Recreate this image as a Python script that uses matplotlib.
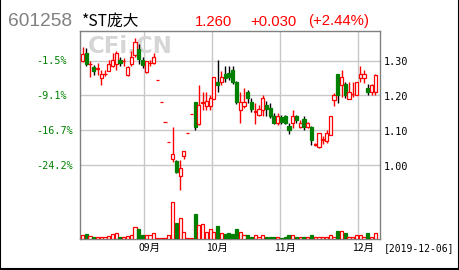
import matplotlib
matplotlib.use('Agg')
import matplotlib.pyplot as plt
from matplotlib.lines import Line2D

# daily candles, 2019-08 .. 2019-12-06
opens = [1.300, 1.321, 1.290, 1.281, 1.277, 1.250, 1.261, 1.271, 1.283, 1.290,
         1.302, 1.298, 1.259, 1.290, 1.315, 1.332, 1.302, 1.268, 1.292, 1.292,
         1.245, 1.182, 1.123, 1.067, 1.018, 1.013, 0.970, 1.028, 1.092, 1.146,
         1.180, 1.119, 1.178, 1.169, 1.170, 1.191, 1.240, 1.240, 1.262, 1.264,
         1.273, 1.240, 1.159, 1.170, 1.211, 1.180, 1.153, 1.145, 1.159, 1.173,
         1.163, 1.140, 1.121, 1.138, 1.140, 1.113, 1.121, 1.140, 1.110, 1.132,
         1.110, 1.111, 1.058, 1.052, 1.072, 1.071, 1.088, 1.188, 1.262, 1.230,
         1.233, 1.190, 1.203, 1.200, 1.250, 1.250, 1.221, 1.211, 1.209]
highs = [1.340, 1.335, 1.300, 1.288, 1.292, 1.273, 1.273, 1.302, 1.321, 1.326,
         1.311, 1.307, 1.283, 1.326, 1.364, 1.346, 1.311, 1.300, 1.302, 1.321,
         1.245, 1.182, 1.123, 1.067, 1.111, 1.015, 1.016, 1.042, 1.092, 1.146,
         1.180, 1.230, 1.211, 1.211, 1.202, 1.254, 1.302, 1.271, 1.283, 1.283,
         1.283, 1.242, 1.211, 1.221, 1.216, 1.192, 1.178, 1.173, 1.202, 1.183,
         1.178, 1.151, 1.151, 1.145, 1.145, 1.121, 1.159, 1.145, 1.130, 1.140,
         1.124, 1.113, 1.065, 1.094, 1.083, 1.100, 1.141, 1.207, 1.262, 1.273,
         1.240, 1.240, 1.240, 1.240, 1.283, 1.273, 1.233, 1.233, 1.262]
lows = [1.297, 1.283, 1.252, 1.259, 1.259, 1.230, 1.256, 1.269, 1.281, 1.273,
        1.283, 1.283, 1.256, 1.283, 1.311, 1.289, 1.278, 1.265, 1.285, 1.290,
        1.245, 1.182, 1.123, 1.067, 1.011, 0.978, 0.930, 1.018, 1.092, 1.146,
        1.100, 1.115, 1.159, 1.159, 1.159, 1.190, 1.210, 1.230, 1.240, 1.245,
        1.233, 1.176, 1.121, 1.165, 1.178, 1.152, 1.119, 1.140, 1.140, 1.140,
        1.135, 1.119, 1.115, 1.118, 1.118, 1.090, 1.107, 1.120, 1.108, 1.100,
        1.106, 1.059, 1.055, 1.050, 1.061, 1.064, 1.087, 1.170, 1.178, 1.197,
        1.192, 1.190, 1.197, 1.200, 1.240, 1.237, 1.200, 1.200, 1.200]
closes = [1.319, 1.290, 1.291, 1.271, 1.279, 1.262, 1.262, 1.290, 1.302, 1.321,
          1.292, 1.300, 1.281, 1.311, 1.353, 1.304, 1.288, 1.300, 1.294, 1.310,
          1.245, 1.182, 1.123, 1.067, 1.032, 0.982, 0.992, 1.040, 1.092, 1.146,
          1.110, 1.172, 1.181, 1.183, 1.192, 1.252, 1.230, 1.252, 1.250, 1.252,
          1.240, 1.180, 1.180, 1.181, 1.192, 1.161, 1.157, 1.161, 1.192, 1.161,
          1.142, 1.121, 1.140, 1.123, 1.121, 1.102, 1.140, 1.129, 1.121, 1.110,
          1.121, 1.073, 1.061, 1.092, 1.075, 1.092, 1.140, 1.200, 1.200, 1.254,
          1.200, 1.211, 1.205, 1.240, 1.262, 1.262, 1.211, 1.230, 1.260]
volumes = [13, 15, 11, 8, 8, 8, 8, 11, 15, 18, 8, 8, 10, 13, 38, 30, 14, 14, 14, 20,
           3, 3, 3, 12, 113, 50, 65, 22, 3, 3, 75, 43, 47, 22, 30, 22, 40, 18, 15, 18,
           15, 30, 23, 13, 12, 8, 12, 8, 12, 6, 6, 8, 8, 5, 6, 12, 12, 6, 6, 6,
           8, 12, 8, 8, 6, 8, 12, 8, 26, 26, 18, 8, 8, 12, 14, 8, 18, 8, 20]

month_labels = ['09月', '10月', '11月', '12月']
month_starts = [17, 35, 53, 74]
price_ticks = [1.30, 1.20, 1.10, 1.00]
pct_labels = ['-1.5%', '-9.1%', '-16.7%', '-24.2%']
code = '601258'
name = '*ST庞大'
last_date = '2019-12-06'
prev_close = 1.23

RED = '#ff0000'
GREEN = '#008000'
GRID = '#c8c8c8'

fig = plt.figure(figsize=(4.6, 2.7), dpi=100)
rect = [80 / 460, 1 - 239.3 / 270, 300.3 / 460, 208.3 / 270]
ax = fig.add_axes(rect)
axv = fig.add_axes(rect)
axv.patch.set_visible(False)
axv.axis('off')

n = len(closes)
xs = list(range(n))
up = [c >= o for o, c in zip(opens, closes)]

# grid
for t in price_ticks:
    ax.axhline(t, color=GRID, lw=1, zorder=0)
for m in month_starts:
    ax.axvline(m - 0.5, color=GRID, lw=1, zorder=0)

ax.text(0.027, 0.925, 'CFi.CN', transform=ax.transAxes, fontsize=16.5, fontweight='bold',
        color='#d6d6d6', va='center', ha='left', zorder=1)

# candles
wick_col = [RED if u else 'black' for u in up]
ax.vlines(xs, lows, highs, colors=wick_col, lw=1, zorder=2)
body_h = [c - o for o, c in zip(opens, closes)]
ax.bar(xs, body_h, bottom=opens, width=0.85,
       color=['white' if u else GREEN for u in up],
       edgecolor=[RED if u else GREEN for u in up], linewidth=0.9, zorder=3)

# volume
axv.bar(xs, volumes, width=0.85,
        color=['white' if u else GREEN for u in up],
        edgecolor=[RED if u else GREEN for u in up], linewidth=0.9)

for a in (ax, axv):
    a.set_xlim(-0.666, 79.33)
ax.set_ylim(0.7891, 1.3843)
axv.set_ylim(0, 625)
ax.set_xticks([])
ax.set_yticks([])
for s in ax.spines.values():
    s.set_color('#808080')
    s.set_linewidth(1)

# axis labels
for t, p in zip(price_ticks, pct_labels):
    ax.annotate(p, xy=(0, t), xycoords=('axes fraction', 'data'), xytext=(-44, -3.8),
                textcoords='offset pixels', ha='left', va='baseline',
                color=GREEN, fontsize=7.3, family='DejaVu Sans Mono')
    ax.annotate('%.2f' % t, xy=(1, t), xycoords=('axes fraction', 'data'), xytext=(3, -4.5),
                textcoords='offset pixels', ha='left', va='baseline',
                color='black', fontsize=7.3, family='DejaVu Sans Mono')

for m, lab in zip(month_starts, month_labels):
    ax.annotate(lab, xy=(m - 0.5, 0), xycoords=('data', 'axes fraction'), xytext=(-6, -12),
                textcoords='offset pixels', ha='left', va='baseline',
                color='black', fontsize=7.5, family=['Noto Sans CJK SC', 'DejaVu Sans'])
ax.annotate('[' + last_date + ']', xy=(1, 0), xycoords='axes fraction', xytext=(3, -12),
            textcoords='offset pixels', ha='left', va='baseline',
            color='black', fontsize=7, family='DejaVu Sans Mono')

# header
last = closes[-1]
chg = last - prev_close
pct = chg / prev_close * 100
fig.text(8 / 460, 1 - 26 / 270, code, color='#808080', fontsize=13.8,
         family='Liberation Sans', va='baseline')
fig.text(82 / 460, 1 - 25.5 / 270, name, color='black', fontsize=11.3,
         family=['Noto Sans CJK SC', 'DejaVu Sans'], va='baseline')
fig.text(195 / 460, 1 - 25.5 / 270, '%.3f' % last, color=RED, fontsize=10.7,
         family='Liberation Sans', va='baseline')
fig.text(250.5 / 460, 1 - 25.5 / 270, '%+.3f' % chg, color=RED, fontsize=10.7,
         family='Liberation Sans', va='baseline')
fig.text(308 / 460, 1 - 25.5 / 270, '(%+.2f%%)' % pct, color=RED, fontsize=10.7,
         family='Liberation Sans', va='baseline')

# outer frame: left, bottom, right only
fig.add_artist(Line2D([0.001, 0.001, 0.998, 0.998], [1, 0.004, 0.004, 1],
                      transform=fig.transFigure, color='black', lw=1.5))

fig.savefig('out.png', dpi=100)
